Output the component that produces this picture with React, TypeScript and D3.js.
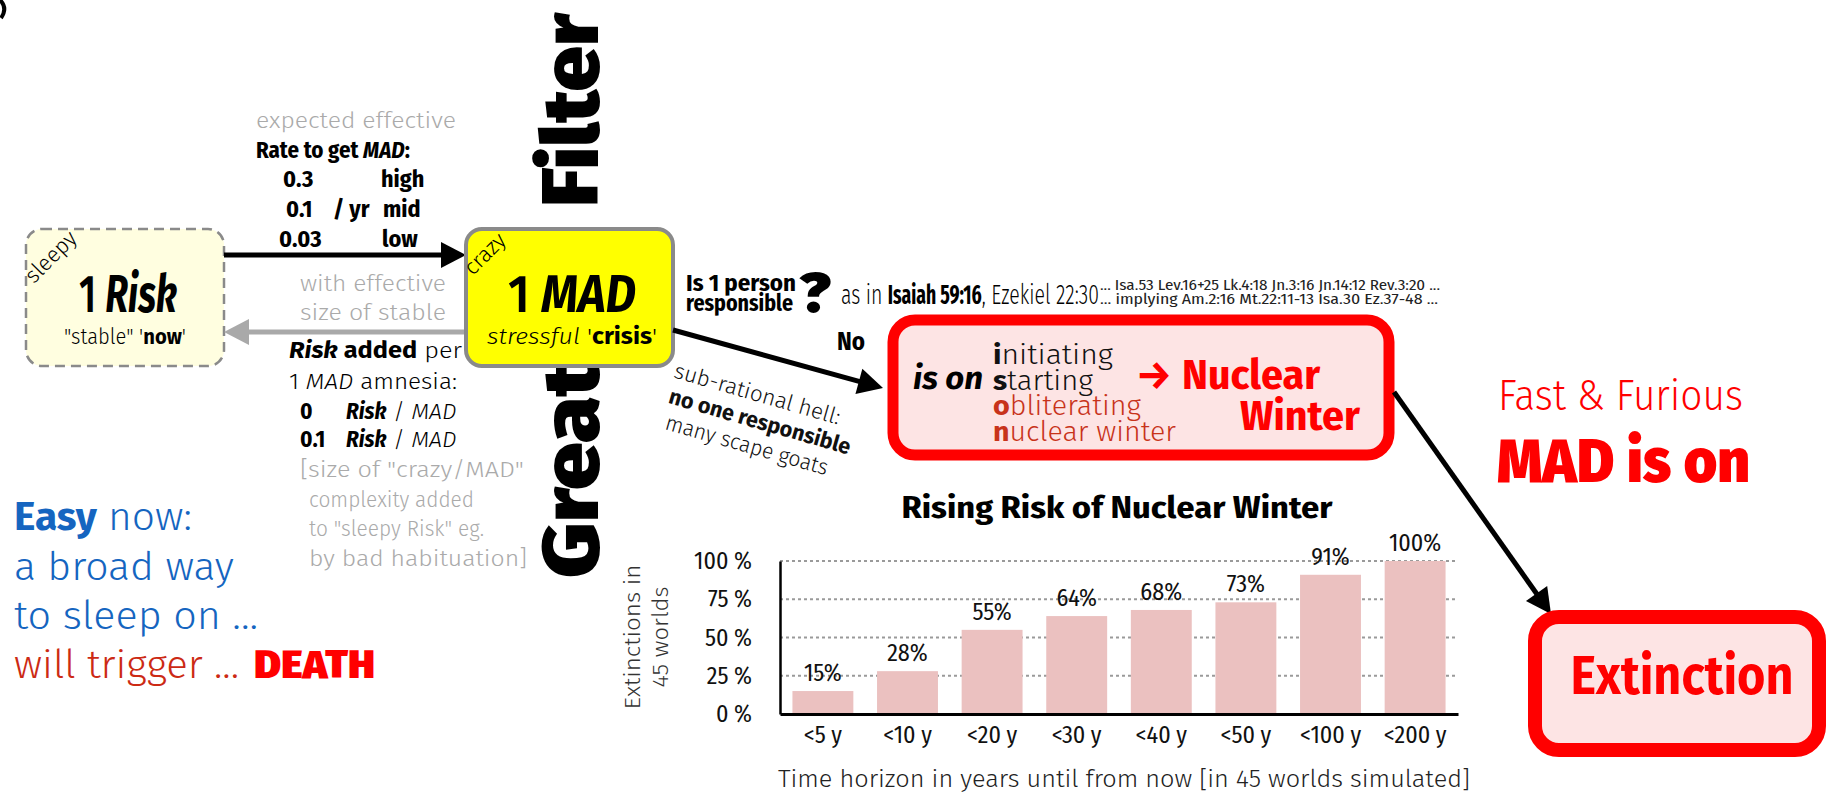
import React from 'react';
import { scaleBand, scaleLinear, select, axisLeft, axisBottom } from 'd3';

// bar chart data
const horizons = ['<5 y', '<10 y', '<20 y', '<30 y', '<40 y', '<50 y', '<100 y', '<200 y'];
const extinctionShare = [15, 28, 55, 64, 68, 73, 91, 100];
const shareTicks = [0, 25, 50, 75, 100];
const gridTicks = [25, 50, 75, 100];

// diagram text
const rateValues = ['0.3', '0.1', '0.03'];
const rateLevels = ['high', 'mid', 'low'];
const amnesiaValues = ['0', '0.1'];
const sizeNote = ['[size of "crazy/MAD"', 'complexity added', 'to "sleepy Risk" eg.', 'by bad habituation]'];
const onWords = [['i', 'nitiating'], ['s', 'tarting'], ['o', 'bliterating'], ['n', 'uclear winter']];
const refLines = [
  '... Isa.53 Lev.16+25 Lk.4:18 Jn.3:16 Jn.14:12 Rev.3:20 ...',
  '... implying Am.2:16 Mt.22:11-13 Isa.30 Ez.37-48 ...',
];
const goatLines = ['sub-rational hell:', 'no one responsible', 'many scape goats'];

const F = "'Fira Sans', Lato, 'Noto Sans', sans-serif";
const FC = "'Fira Sans Condensed', 'Roboto Condensed', Roboto, Lato, sans-serif";

const dims = {
  width: 1826,
  height: 793,
  left: 780,
  right: 1458,
  top: 561,
  bottom: 714,
};

const Arrow = ({ x1, y1, x2, y2, color = '#000', w = 5, head = 25, half = 13 }) => {
  const dx = x2 - x1;
  const dy = y2 - y1;
  const len = Math.sqrt(dx * dx + dy * dy);
  const ux = dx / len;
  const uy = dy / len;
  const bx = x2 - ux * head;
  const by = y2 - uy * head;
  const pts = `${x2},${y2} ${bx - uy * half},${by + ux * half} ${bx + uy * half},${by - ux * half}`;
  return (
    <g>
      <line x1={x1} y1={y1} x2={bx + ux * 2} y2={by + uy * 2} stroke={color} strokeWidth={w} />
      <polygon points={pts} fill={color} />
    </g>
  );
};

const App = () => {
  const chartRef = React.useRef<SVGGElement>(null);

  React.useEffect(() => {
    const g = select(chartRef.current);
    g.selectAll('*').remove();

    const xScale = scaleBand()
      .domain(horizons)
      .range([dims.left, dims.right])
      .paddingInner(0.28)
      .paddingOuter(0.147);
    const yScale = scaleLinear().domain([0, 100]).range([dims.bottom, dims.top]);

    // dotted grid
    g.append('g')
      .selectAll('line')
      .data(gridTicks)
      .join('line')
      .attr('x1', dims.left)
      .attr('x2', dims.right)
      .attr('y1', d => yScale(d))
      .attr('y2', d => yScale(d))
      .attr('stroke', '#9a9a9a')
      .attr('stroke-width', 2)
      .attr('stroke-dasharray', '3,3');

    const rows = horizons.map((h, i) => ({ h, v: extinctionShare[i] }));

    g.append('g')
      .selectAll('rect')
      .data(rows)
      .join('rect')
      .attr('x', d => xScale(d.h))
      .attr('width', xScale.bandwidth())
      .attr('y', d => yScale(d.v))
      .attr('height', d => yScale(0) - yScale(d.v))
      .attr('fill', '#ebc1c0');

    g.append('g')
      .selectAll('text')
      .data(rows)
      .join('text')
      .attr('x', d => xScale(d.h) + xScale.bandwidth() / 2)
      .attr('y', d => yScale(d.v) - 10)
      .attr('text-anchor', 'middle')
      .attr('font-family', FC)
      .attr('font-size', 24)
      .attr('fill', '#111')
      .text(d => `${d.v}%`);

    const yAxis = axisLeft(yScale)
      .tickValues(shareTicks)
      .tickSize(0)
      .tickSizeOuter(0)
      .tickPadding(28)
      .tickFormat(d => `${d} %`);
    const yG = g.append('g').attr('transform', `translate(${dims.left},0)`).call(yAxis);
    yG.attr('font-family', FC).attr('font-size', 24);
    yG.select('.domain').attr('stroke', '#000').attr('stroke-width', 2.5);
    yG.selectAll('text').attr('fill', '#111');

    const xAxis = axisBottom(xScale).tickSize(0).tickSizeOuter(0).tickPadding(12);
    const xG = g.append('g').attr('transform', `translate(0,${dims.bottom})`).call(xAxis);
    xG.attr('font-family', FC).attr('font-size', 24);
    xG.select('.domain').attr('stroke', '#000').attr('stroke-width', 3);
    xG.selectAll('text').attr('fill', '#111');
  }, []);

  return (
    <svg
      width={dims.width}
      height={dims.height}
      fontFamily={F}
      style={{ position: 'absolute', left: 0, top: 0, display: 'block', background: '#fff' }}
    >
      <path d="M0,0 Q8,8 1,18" fill="none" stroke="#000" strokeWidth={4} />

      {/* Great Filter */}
      <text transform="translate(598,207) rotate(-90)" fontSize={80} fontWeight={900} textLength={194} lengthAdjust="spacingAndGlyphs">Filter</text>
      <text transform="translate(598,578) rotate(-90)" fontSize={80} fontWeight={900} textLength={216} lengthAdjust="spacingAndGlyphs">Great</text>

      {/* sleepy box */}
      <rect x={26} y={229} width={198} height={137} rx={16} fill="#fffee0" stroke="#8a8a8a" strokeWidth={2.5} strokeDasharray="10,6" />
      <text transform="translate(56,262) rotate(-45)" textAnchor="middle" fontSize={22} fontWeight={300}>sleepy</text>
      <text x={128} y={312} textAnchor="middle" fontSize={52} textLength={98} lengthAdjust="spacingAndGlyphs">
        <tspan fontWeight={600}>1 </tspan>
        <tspan fontWeight={700} fontStyle="italic">Risk</tspan>
      </text>
      <text x={125} y={344} textAnchor="middle" fontSize={22} fontWeight={300} textLength={122} lengthAdjust="spacingAndGlyphs">
        "stable" '<tspan fontWeight={700}>now</tspan>'
      </text>

      {/* arrows between states */}
      <Arrow x1={224} y1={255} x2={466} y2={255} />
      <Arrow x1={466} y1={332} x2={224} y2={332} color="#a9a9a9" />

      {/* rate annotation */}
      <text x={256} y={128} fontSize={22} fontWeight={300} fill="#aaa" textLength={200} lengthAdjust="spacingAndGlyphs">expected effective</text>
      <text x={256} y={158} fontSize={24} fontWeight={700} fontFamily={FC} textLength={154} lengthAdjust="spacingAndGlyphs">
        Rate to get <tspan fontStyle="italic">MAD</tspan>:
      </text>
      {rateValues.map((v, i) => (
        <g key={v} fontFamily={FC} fontSize={24} fontWeight={700}>
          <text x={[283, 286, 279][i]} y={187 + i * 30}>{v}</text>
          <text x={[381, 383, 382][i]} y={187 + i * 30}>{rateLevels[i]}</text>
        </g>
      ))}
      <text x={333} y={217} fontFamily={FC} fontSize={24} fontWeight={700}>/ yr</text>

      <text x={300} y={291} fontSize={22} fontWeight={300} fill="#aaa" textLength={146} lengthAdjust="spacingAndGlyphs">with effective</text>
      <text x={300} y={320} fontSize={22} fontWeight={300} fill="#aaa" textLength={146} lengthAdjust="spacingAndGlyphs">size of stable</text>
      <text x={289} y={358} fontSize={23} textLength={173} lengthAdjust="spacingAndGlyphs">
        <tspan fontWeight={700} fontStyle="italic">Risk</tspan>
        <tspan fontWeight={700}> added</tspan>
        <tspan fontWeight={300}> per</tspan>
      </text>
      <text x={289} y={389} fontSize={22} fontWeight={300} textLength={168} lengthAdjust="spacingAndGlyphs">
        1 <tspan fontStyle="italic">MAD</tspan> amnesia:
      </text>
      {amnesiaValues.map((v, i) => (
        <g key={v} fontSize={23}>
          <text x={300} y={419 + i * 28} fontWeight={700} fontFamily={FC}>{v}</text>
          <text x={346} y={419 + i * 28} fontWeight={700} fontStyle="italic" fontFamily={FC}>Risk</text>
          <text x={393} y={419 + i * 28} fontWeight={300}>/ <tspan fontStyle="italic">MAD</tspan></text>
        </g>
      ))}
      {sizeNote.map((s, i) => (
        <text key={s} x={i === 0 ? 300 : 309} y={477 + i * 29.5} fontSize={22} fontWeight={300} fill="#aaa"
          textLength={[224, 165, 175, 218][i]} lengthAdjust="spacingAndGlyphs">{s}</text>
      ))}

      {/* easy now */}
      <g fontSize={39} fontWeight={300}>
        <text x={14} y={530} fill="#1565c0" textLength={178} lengthAdjust="spacingAndGlyphs">
          <tspan fontWeight={700}>Easy</tspan> now:
        </text>
        <text x={14} y={580} fill="#1565c0" textLength={220} lengthAdjust="spacingAndGlyphs">a broad way</text>
        <text x={14} y={629} fill="#1565c0" textLength={244} lengthAdjust="spacingAndGlyphs">to sleep on ...</text>
        <text x={14} y={678} fill="#cc2a14" textLength={225} lengthAdjust="spacingAndGlyphs">will trigger ...</text>
        <text x={254} y={678} fill="#ff0000" fontWeight={900} fontFamily={FC} textLength={121} lengthAdjust="spacingAndGlyphs">DEATH</text>
      </g>

      {/* MAD box */}
      <rect x={466} y={229} width={207} height={137} rx={16} fill="#ffff00" stroke="#8a8a8a" strokeWidth={4} />
      <text transform="translate(490,259) rotate(-45)" textAnchor="middle" fontSize={22} fontWeight={300}>crazy</text>
      <text x={572} y={312} textAnchor="middle" fontSize={52} textLength={128} lengthAdjust="spacingAndGlyphs">
        <tspan fontWeight={600}>1 </tspan>
        <tspan fontWeight={700} fontStyle="italic">MAD</tspan>
      </text>
      <text x={572} y={344} textAnchor="middle" fontSize={23} textLength={170} lengthAdjust="spacingAndGlyphs">
        <tspan fontWeight={300} fontStyle="italic">stressful</tspan>
        <tspan fontWeight={300}> '</tspan>
        <tspan fontWeight={700}>crisis</tspan>
        <tspan fontWeight={300}>'</tspan>
      </text>

      {/* responsibility question */}
      <text x={686} y={291} fontSize={24} fontWeight={700} fontFamily={FC} textLength={110} lengthAdjust="spacingAndGlyphs">Is 1 person</text>
      <text x={686} y={311} fontSize={24} fontWeight={700} fontFamily={FC} textLength={107} lengthAdjust="spacingAndGlyphs">responsible</text>
      <text x={799} y={312} fontSize={56} fontWeight={900} textLength={32} lengthAdjust="spacingAndGlyphs">?</text>
      <text x={841} y={304} fontSize={27} fontWeight={300} textLength={258} lengthAdjust="spacingAndGlyphs">
        as in <tspan fontWeight={700} fontFamily={FC}>Isaiah 59:16</tspan>, Ezekiel 22:30
      </text>
      {refLines.map((r, i) => (
        <text key={r} x={1100} y={290 + i * 14} fontSize={15} fontFamily={FC} fill="#222"
          textLength={[340, 338][i]} lengthAdjust="spacingAndGlyphs">{r}</text>
      ))}
      <text x={837} y={350} fontSize={25} fontWeight={700} fontFamily={FC} textLength={28} lengthAdjust="spacingAndGlyphs">No</text>

      <Arrow x1={673} y1={330} x2={883} y2={388} />

      <g transform="translate(760,421) rotate(16)" fontSize={22} textAnchor="middle" fill="#111">
        {goatLines.map((s, i) => (
          <text key={s} x={[-10, 0, -6][i]} y={(i - 1) * 26 + 8} fontWeight={i === 1 ? 700 : 300}
            textLength={[172, 188, 168][i]} lengthAdjust="spacingAndGlyphs">{s}</text>
        ))}
      </g>

      {/* nuclear winter box */}
      <rect x={893} y={320} width={496} height={135} rx={22} fill="#fde4e4" stroke="#ff0000" strokeWidth={11} />
      <text x={913} y={389} fontSize={32} fontWeight={700} fontStyle="italic" textLength={70} lengthAdjust="spacingAndGlyphs">is on</text>
      {onWords.map(([a, b], i) => (
        <text key={b} x={993} y={364 + i * 25.5} fontSize={27} fontWeight={300} fill={i < 2 ? '#111' : '#c8331a'}
          textLength={[120, 100, 148, 183][i]} lengthAdjust="spacingAndGlyphs">
          <tspan fontWeight={700}>{a}</tspan>{b}
        </text>
      ))}
      <text x={1136} y={389} fontSize={40} fontWeight={700} fill="#ff0000" textLength={36} lengthAdjust="spacingAndGlyphs">→</text>
      <text x={1182} y={389} fontSize={42} fontWeight={700} fill="#ff0000" fontFamily={FC} textLength={138} lengthAdjust="spacingAndGlyphs">Nuclear</text>
      <text x={1240} y={430} fontSize={42} fontWeight={700} fill="#ff0000" fontFamily={FC} textLength={120} lengthAdjust="spacingAndGlyphs">Winter</text>

      <Arrow x1={1394} y1={392} x2={1551} y2={614} />

      <text x={1498} y={410} fontSize={42} fontWeight={300} fill="#ff0000" textLength={245} lengthAdjust="spacingAndGlyphs">Fast &amp; Furious</text>
      <text x={1497} y={482} fontSize={62} fontWeight={900} fill="#ff0000" textLength={253} lengthAdjust="spacingAndGlyphs">MAD is on</text>

      {/* extinction box */}
      <rect x={1535} y={617} width={284} height={133} rx={24} fill="#fde4e4" stroke="#ff0000" strokeWidth={14} />
      <text x={1682} y={694} textAnchor="middle" fontSize={55} fontWeight={700} fill="#ff0000" textLength={223} lengthAdjust="spacingAndGlyphs">Extinction</text>

      {/* bar chart */}
      <text x={1117} y={518} textAnchor="middle" fontSize={31} fontWeight={700} fontFamily={FC} textLength={431} lengthAdjust="spacingAndGlyphs">Rising Risk of Nuclear Winter</text>
      <g ref={chartRef} />
      <text transform="translate(640,637) rotate(-90)" textAnchor="middle" fontSize={23} fontWeight={300} fill="#333" textLength={145} lengthAdjust="spacingAndGlyphs">Extinctions in</text>
      <text transform="translate(668,637) rotate(-90)" textAnchor="middle" fontSize={23} fontWeight={300} fill="#333" textLength={101} lengthAdjust="spacingAndGlyphs">45 worlds</text>
      <text x={1124} y={787} textAnchor="middle" fontSize={25} fontWeight={300} fill="#222" textLength={692} lengthAdjust="spacingAndGlyphs">Time horizon in years until from now [in 45 worlds simulated]</text>
    </svg>
  );
};

export default App;
